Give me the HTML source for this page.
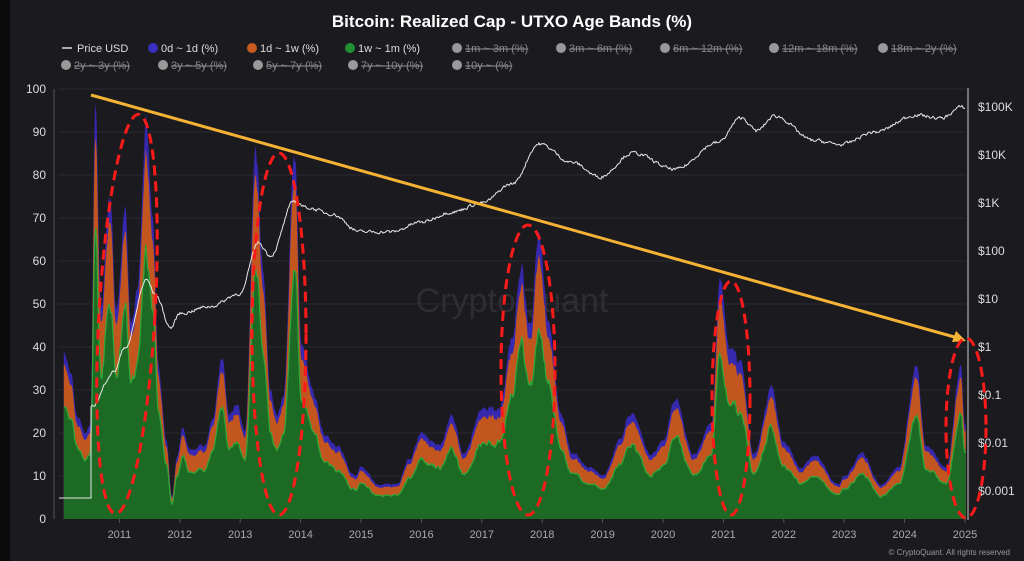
<!DOCTYPE html>
<html><head><meta charset="utf-8"><style>
html,body{margin:0;padding:0;background:#0b0b0c;}
#c{position:absolute;left:10px;top:0;width:1014px;height:561px;background:#1b1a1f;}
svg{position:absolute;left:0;top:0;}
text{font-family:"Liberation Sans",sans-serif;}
</style></head><body>
<div id="c"></div>
<svg id="s" width="1024" height="561" viewBox="0 0 1024 561">
<text x="512" y="27" fill="#fff" font-size="17" font-weight="bold" text-anchor="middle">Bitcoin: Realized Cap - UTXO Age Bands (%)</text>
<g font-size="11" fill="#ddd">
<line x1="62" y1="48" x2="72" y2="48" stroke="#aaa" stroke-width="2"/><text x="77" y="52">Price USD</text>
<circle cx="153" cy="48" r="5" fill="#3a2fbf"/><text x="161" y="52">0d ~ 1d (%)</text>
<circle cx="252" cy="48" r="5" fill="#c85a1f"/><text x="260" y="52">1d ~ 1w (%)</text>
<circle cx="350" cy="48" r="5" fill="#1f8f2f"/><text x="358" y="52">1w ~ 1m (%)</text>
</g>
<g font-size="11" fill="#888" text-decoration="line-through">
<circle cx="457" cy="48" r="5" fill="#999"/><text x="465" y="52">1m ~ 3m (%)</text>
<circle cx="561" cy="48" r="5" fill="#999"/><text x="569" y="52">3m ~ 6m (%)</text>
<circle cx="665" cy="48" r="5" fill="#999"/><text x="673" y="52">6m ~ 12m (%)</text>
<circle cx="774" cy="48" r="5" fill="#999"/><text x="782" y="52">12m ~ 18m (%)</text>
<circle cx="883" cy="48" r="5" fill="#999"/><text x="891" y="52">18m ~ 2y (%)</text>
<circle cx="66" cy="65" r="5" fill="#999"/><text x="74" y="69">2y ~ 3y (%)</text>
<circle cx="163" cy="65" r="5" fill="#999"/><text x="171" y="69">3y ~ 5y (%)</text>
<circle cx="258" cy="65" r="5" fill="#999"/><text x="266" y="69">5y ~ 7y (%)</text>
<circle cx="353" cy="65" r="5" fill="#999"/><text x="361" y="69">7y ~ 10y (%)</text>
<circle cx="457" cy="65" r="5" fill="#999"/><text x="465" y="69">10y ~ (%)</text>
</g>
<g id="grid" stroke="#2b2a30" stroke-width="1"></g>
<line x1="54" y1="89" x2="54" y2="519" stroke="#555" />
<line x1="968" y1="88" x2="968" y2="520" stroke="#ccc" />
<g id="yl" font-size="12" fill="#ddd" text-anchor="end"></g>
<g id="yr" font-size="12" fill="#ddd"></g>
<g id="xl" font-size="11" fill="#aaa" text-anchor="middle"></g>
<text x="512" y="312" fill="#2e2d33" font-size="34" text-anchor="middle">CryptoQuant</text>
<g id="areas"></g>
<path id="price" fill="none" stroke="#e8e8e8" stroke-width="1"/>
<line x1="91" y1="95" x2="958" y2="338" stroke="#f5b335" stroke-width="3"/>
<polygon points="966,341 952,342 956,331" fill="#f5b335"/>
<g fill="none" stroke="#ff1a1a" stroke-width="3" stroke-dasharray="10,6">
<ellipse cx="127" cy="314" rx="28" ry="200" transform="rotate(3.3 127 314)"/>
<ellipse cx="279" cy="334" rx="27" ry="181"/>
<ellipse cx="528" cy="370" rx="27" ry="145"/>
<ellipse cx="731" cy="398" rx="19" ry="117"/>
<ellipse cx="966" cy="428" rx="20" ry="90"/>
</g>
<text x="1010" y="555" fill="#999" font-size="8" text-anchor="end">© CryptoQuant. All rights reserved</text>
</svg>
<script>
const NS="http://www.w3.org/2000/svg";
function el(t,a,p,txt){const e=document.createElementNS(NS,t);for(const k in a)e.setAttribute(k,a[k]);if(txt!=null)e.textContent=txt;p.appendChild(e);return e;}
const X=y=>59+60.4*(y-2010), Y=v=>519-4.3*v;
const g=document.getElementById('grid'),yl=document.getElementById('yl'),yr=document.getElementById('yr'),xl=document.getElementById('xl');
for(let v=0;v<=100;v+=10){ if(v>0)el('line',{x1:58,x2:966,y1:Y(v),y2:Y(v)},g); el('text',{x:46,y:Y(v)+4},yl,v);}
const rl=['$100K','$10K','$1K','$100','$10','$1','$0.1','$0.01','$0.001'];
rl.forEach((t,i)=>el('text',{x:978,y:111+48*i},yr,t));
for(let y=2011;y<=2025;y++){el('text',{x:X(y),y:538},xl,y);el('line',{x1:X(y),x2:X(y),y1:519,y2:523,stroke:'#555'},g);}
const pk=[[2010.08,40],[2010.2,33],[2010.3,24],[2010.45,20],[2010.52,22],[2010.6,96],[2010.7,50],[2010.84,76],[2010.95,48],[2011.1,72],[2011.2,45],[2011.3,55],[2011.44,93],[2011.55,70],[2011.65,35],[2011.78,18],[2011.87,5],[2011.95,14],[2012.05,21],[2012.15,16],[2012.4,17],[2012.55,24],[2012.7,37],[2012.82,24],[2012.95,27],[2013.08,20],[2013.26,85],[2013.38,58],[2013.5,30],[2013.6,24],[2013.72,29],[2013.9,86],[2014.02,40],[2014.2,30],[2014.4,20],[2014.6,17],[2014.9,10],[2015.0,12],[2015.3,8],[2015.6,8],[2015.8,14],[2016.0,20],[2016.3,17],[2016.5,24],[2016.7,15],[2017.0,25],[2017.3,26],[2017.5,42],[2017.65,59],[2017.8,44],[2017.95,67],[2018.1,47],[2018.3,25],[2018.5,15],[2018.8,12],[2019.0,10],[2019.3,18],[2019.45,25],[2019.8,15],[2020.0,18],[2020.2,28],[2020.5,15],[2020.8,22],[2020.95,55],[2021.1,40],[2021.3,36],[2021.5,15],[2021.8,30],[2022.0,18],[2022.3,12],[2022.5,15],[2022.9,8],[2023.0,10],[2023.3,15],[2023.6,8],[2023.9,12],[2024.2,36],[2024.35,17],[2024.7,12],[2024.93,36],[2025.0,22]];
function interp(arr,t){for(let i=0;i<arr.length-1;i++){if(t<=arr[i+1][0]){const f=(t-arr[i][0])/(arr[i+1][0]-arr[i][0]);const s=(1-Math.cos(Math.PI*f))/2;return arr[i][1]+(arr[i+1][1]-arr[i][1])*s;}}return arr[arr.length-1][1];}
let seed=7;const rnd=()=>{seed=(seed*16807)%2147483647;return seed/2147483647;};
const tops=[[],[],[]];let n1=0,n2=0,n3=0;
for(let x=X(2010.08);x<=X(2025.02);x+=1){const t=(x-59)/60.4+2010;
n1=0.6*n1+0.4*(rnd()-0.5);n2=0.7*n2+0.3*(rnd()-0.5);n3=0.7*n3+0.3*(rnd()-0.5);
let v=interp(pk,Math.max(2010.08,Math.min(2025,t)))*(1+n1*0.12);
const or=v*(0.92+n2*0.04),gr=v*(0.68+n3*0.12);tops[0].push([x,v]);tops[1].push([x,or]);tops[2].push([x,gr]);}
const cols=['#3629b0','#c2561e','#1d6a25'];const a=document.getElementById('areas');
tops.forEach((tp,i)=>{let d='M'+tp[0][0]+','+Y(0);tp.forEach(p=>d+='L'+p[0].toFixed(1)+','+Y(p[1]).toFixed(1));d+='L'+tp[tp.length-1][0]+','+Y(0)+'Z';el('path',{d:d,fill:cols[i]},a);});
let d2='';tops[2].forEach((p,i)=>d2+=(i?'L':'M')+p[0].toFixed(1)+','+Y(p[1]).toFixed(1));el('path',{d:d2,fill:'none',stroke:'#2ea83a','stroke-width':1.2},a);
const pr=[[2010.55,0.06],[2010.9,0.3],[2011.1,1],[2011.45,25],[2011.6,12],[2011.85,2.5],[2012.0,5],[2012.5,7],[2013.0,13],[2013.3,150],[2013.5,80],[2013.9,1100],[2014.1,800],[2014.5,600],[2015.0,250],[2015.5,250],[2016.0,400],[2016.5,650],[2017.0,1000],[2017.5,2500],[2017.95,17000],[2018.5,7000],[2018.95,3500],[2019.5,11000],[2020.2,5000],[2020.9,18000],[2021.3,60000],[2021.55,32000],[2021.85,65000],[2022.5,20000],[2022.95,16500],[2023.5,30000],[2024.2,68000],[2024.6,58000],[2024.95,100000],[2025.0,96000]];
const lp=pr.map(p=>[p[0],Math.log10(p[1])]);
let pd='M59,498L91,498L91,410';let pn=0;
for(let x=91;x<=X(2025);x+=1){const t=(x-59)/60.4+2010;pn=0.5*pn+0.5*(rnd()-0.5);let l=interp(lp,t)+pn*0.12;pd+='L'+x+','+(347-48*l).toFixed(1);}
document.getElementById('price').setAttribute('d',pd);
</script>
</body></html>
